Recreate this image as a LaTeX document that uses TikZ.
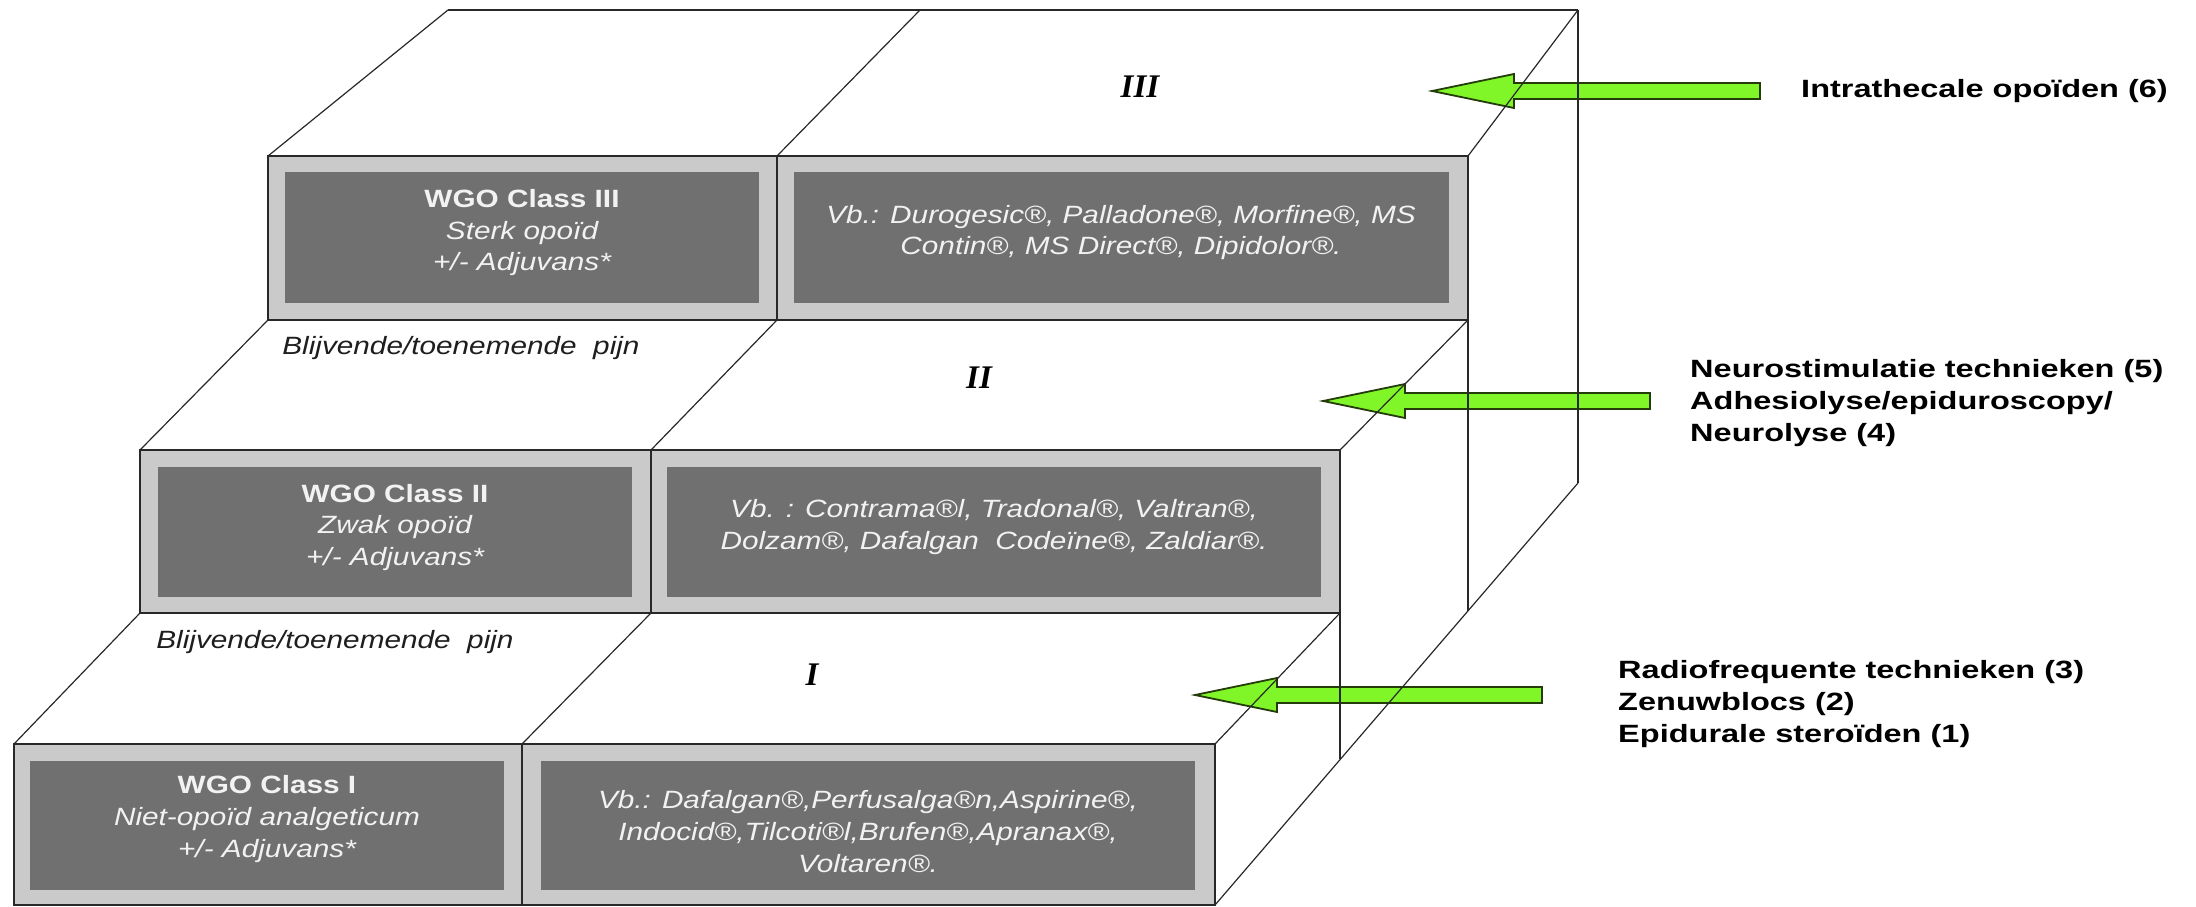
\documentclass[tikz,border=0pt]{standalone}
\usepackage{fontspec}
\setmainfont{Liberation Sans}
\newfontfamily\boxfont[FakeStretch=1.19]{Liberation Sans}
\newfontfamily\sidefont[FakeStretch=1.3]{Liberation Sans}
\newfontfamily\numfont{Liberation Serif}
\usetikzlibrary{calc}
\definecolor{bandgray}{RGB}{202,202,202}
\definecolor{boxgray}{RGB}{112,112,112}
\definecolor{boxtext}{RGB}{242,242,242}
\definecolor{linecol}{RGB}{40,40,40}
\definecolor{labelcol}{RGB}{30,30,30}
\definecolor{arrowgreen}{RGB}{128,245,40}
\definecolor{arrowline}{RGB}{35,60,10}
\tikzset{
  edge/.style={draw=linecol, line width=1.2pt},
  backedge/.style={draw=linecol, line width=1.8pt},
  band/.style={fill=bandgray, draw=linecol, line width=2.2pt},
  divider/.style={draw=linecol, line width=2.2pt},
  darkbox/.style={fill=boxgray},
  boxhead/.style={inner sep=0pt, anchor=base, text=boxtext, font=\boxfont\bfseries\fontsize{25}{30}\selectfont},
  boxital/.style={inner sep=0pt, anchor=base, text=boxtext, font=\boxfont\itshape\fontsize{25}{30}\selectfont},
  painlabel/.style={inner sep=0pt, anchor=base, text=labelcol, font=\boxfont\itshape\fontsize{25}{30}\selectfont},
  numeral/.style={inner sep=0pt, text=black, font=\numfont\bfseries\itshape\fontsize{33}{33}\selectfont},
  sidetext/.style={inner sep=0pt, anchor=base west, text=black, font=\sidefont\bfseries\fontsize{25}{30}\selectfont},
  garrow/.style={fill=arrowgreen, draw=arrowline, line width=1.8pt, line join=miter},
}
\begin{document}
\begin{tikzpicture}[x=1pt,y=-1pt]
\useasboundingbox (0,0) rectangle (2196,907);

% ---- green block arrows (drawn first, lines pass over them)
\coordinate (tip3) at (1432,91);  \coordinate (tail3) at (1760,91);
\coordinate (tip2) at (1323,401); \coordinate (tail2) at (1650,401);
\coordinate (tip1) at (1195,695); \coordinate (tail1) at (1542,695);
\foreach \k in {1,2,3}{
  \path[garrow] (tip\k) -- ++(82,-17) -- ++(0,9) -- ($(tail\k)+(0,-8)$)
     -- ($(tail\k)+(0,8)$) -- ($(tip\k)+(82,8)$) -- ++(0,9) -- cycle;
}

% ---- top face of block III
\draw[backedge] (448,10) -- (1578,10);
\draw[edge] (448,10) -- (268,156);
\draw[edge] (920,10) -- (777,156);
\draw[edge] (1578,10) -- (1468,156);
% ---- top face of step II
\draw[edge] (268,320) -- (140,450);
\draw[edge] (777,320) -- (651,450);
\draw[edge] (1468,320) -- (1340,450);
% ---- top face of step I
\draw[edge] (140,613) -- (14,744);
\draw[edge] (651,613) -- (522,744);
\draw[edge] (1340,613) -- (1215,744);
% ---- right side
\draw[backedge] (1578,10) -- (1578,483);
\draw[edge] (1578,483) -- (1215,905);
\draw[backedge] (1468,156) -- (1468,611);
\draw[backedge] (1340,450) -- (1340,759);

% ---- front faces
\path[band] (268,156) rectangle (1468,320);
\path[band] (140,450) rectangle (1340,613);
\path[band] (14,744) rectangle (1215,905);
\draw[divider] (777,156) -- (777,320);
\draw[divider] (651,450) -- (651,613);
\draw[divider] (522,744) -- (522,905);

% ---- dark boxes
\path[darkbox] (285,172) rectangle (759,303);
\path[darkbox] (794,172) rectangle (1449,303);
\path[darkbox] (158,467) rectangle (632,597);
\path[darkbox] (667,467) rectangle (1321,597);
\path[darkbox] (30,761) rectangle (504,890);
\path[darkbox] (541,761) rectangle (1195,890);

% ---- texts, level III
\node[boxhead] (w3) at (522,207) {WGO Class III};
\node[boxital] (s3) at (522,239) {Sterk opoïd};
\node[boxital] (a3) at (522,270) {+/- Adjuvans*};
\node[boxital] (v3a) at (1121,223) {Vb.: Durogesic®, Palladone®, Morfine®, MS};
\node[boxital] (v3b) at (1121,254) {Contin®, MS Direct®, Dipidolor®.};
% ---- texts, level II
\node[boxhead] (w2) at (395,502) {WGO Class II};
\node[boxital] (s2) at (395,533) {Zwak opoïd};
\node[boxital] (a2) at (395,565) {+/- Adjuvans*};
\node[boxital] (v2a) at (994,517) {Vb. : Contrama®l, Tradonal®, Valtran®,};
\node[boxital] (v2b) at (994,549) {Dolzam®, Dafalgan\ \ Codeïne®, Zaldiar®.};
% ---- texts, level I
\node[boxhead] (w1) at (267,793) {WGO Class I};
\node[boxital] (s1) at (267,825) {Niet-opoïd analgeticum};
\node[boxital] (a1) at (267,857) {+/- Adjuvans*};
\node[boxital] (v1a) at (868,808) {Vb.: Dafalgan®,Perfusalga®n,Aspirine®,};
\node[boxital] (v1b) at (868,840) {Indocid®,Tilcoti®l,Brufen®,Apranax®,};
\node[boxital] (v1c) at (868,872) {Voltaren®.};

% ---- pain labels
\node[painlabel] (p3) at (461,354) {Blijvende/toenemende\ \ pijn};
\node[painlabel] (p2) at (335,648) {Blijvende/toenemende\ \ pijn};

% ---- numerals
\node[numeral] (n3) at (1140,87) {III};
\node[numeral] (n2) at (979,378) {II};
\node[numeral] (n1) at (812,675) {I};

% ---- side texts
\node[sidetext] (r6) at (1801,97) {Intrathecale opoïden (6)};
\node[sidetext] (r5) at (1690,377) {Neurostimulatie technieken (5)};
\node[sidetext] (r4a) at (1690,409) {Adhesiolyse/epiduroscopy/};
\node[sidetext] (r4b) at (1690,441) {Neurolyse (4)};
\node[sidetext] (r3) at (1618,678) {Radiofrequente technieken (3)};
\node[sidetext] (r2) at (1618,710) {Zenuwblocs (2)};
\node[sidetext] (r1) at (1618,742) {Epidurale steroïden (1)};
\end{tikzpicture}
\end{document}
